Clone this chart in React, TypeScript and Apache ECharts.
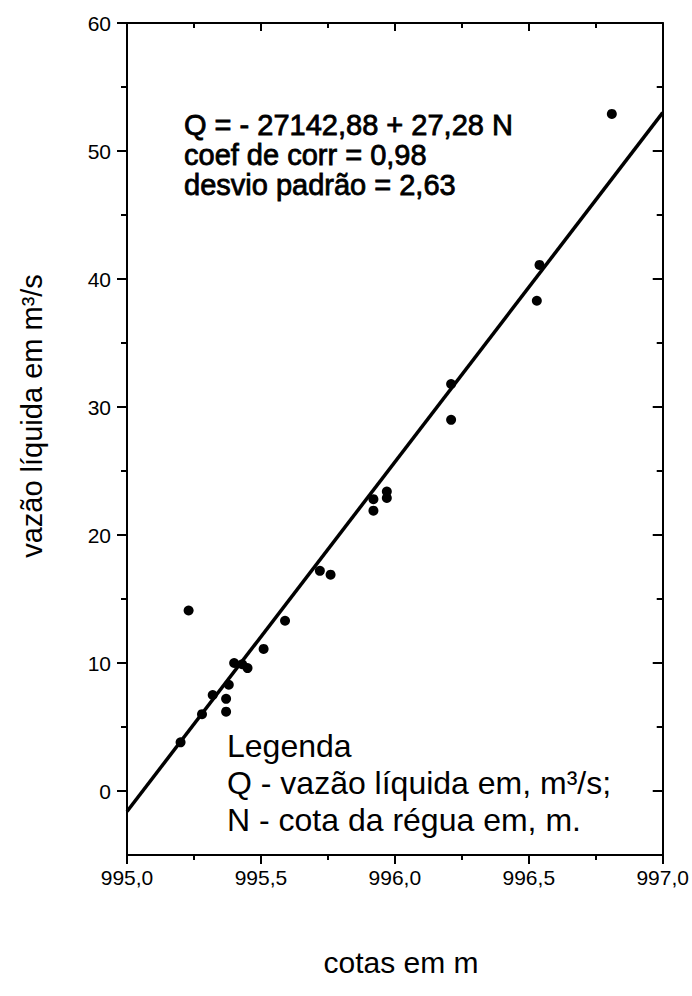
import React, { useEffect, useRef } from "react";
import * as echarts from "echarts";

const cotas = [
  995.2, 995.23, 995.28, 995.32, 995.37, 995.37, 995.38, 995.4, 995.43, 995.45,
  995.51, 995.59, 995.72, 995.76, 995.92, 995.92, 995.97, 995.97, 996.21, 996.21,
  996.53, 996.54, 996.81,
];
const vazoes = [
  3.8, 14.1, 6.0, 7.5, 7.2, 6.2, 8.3, 10.0, 9.9, 9.6,
  11.1, 13.3, 17.2, 16.9, 22.8, 21.9, 23.4, 22.9, 31.8, 29.0,
  38.3, 41.1, 52.9,
];
// Fitted line end points as drawn in the picture
const fitN = [995.0, 997.0];
const fitQ = [-1.6, 53.0];

const yMajorTicks = [0, 10, 20, 30, 40, 50, 60];
const yMinorTicks = [5, 15, 25, 35, 45, 55];

const annotationLines = [
  "Q = - 27142,88 + 27,28 N",
  "coef de corr = 0,98",
  "desvio padrão = 2,63",
];
const legendLines = [
  "Legenda",
  "Q - vazão líquida em, m³/s;",
  "N - cota da régua em, m.",
];

const FONT = "Arial, 'Liberation Sans', sans-serif";
const NARROW = "'Liberation Sans Narrow', 'Arial Narrow', 'Liberation Sans', sans-serif";
const BLACK = "#000";

export default function App() {
  const ref = useRef<HTMLDivElement>(null);

  useEffect(() => {
    if (!ref.current) return;
    const chart = echarts.init(ref.current, undefined, { renderer: "svg" });
    const lineStyle = { color: BLACK, width: 2 };
    const tickLabel = { color: BLACK, fontFamily: NARROW, fontSize: 21 };

    const yBase = { type: "value" as const, min: -5, max: 60, splitLine: { show: false } };

    chart.setOption({
      animation: false,
      backgroundColor: "#fff",
      grid: { left: 127, right: 28, top: 23, bottom: 141, containLabel: false },
      xAxis: [
        {
          type: "value",
          position: "bottom",
          min: 995,
          max: 997,
          interval: 0.5,
          axisLine: { show: true, onZero: false, lineStyle },
          axisTick: { show: true, length: 9, lineStyle },
          minorTick: { show: true, splitNumber: 2, length: 5, lineStyle },
          splitLine: { show: false },
          axisLabel: {
            ...tickLabel,
            margin: 12,
            showMinLabel: true,
            showMaxLabel: true,
            formatter: (v: number) => v.toFixed(1).replace(".", ","),
          },
        },
        {
          type: "value",
          position: "top",
          min: 995,
          max: 997,
          interval: 0.5,
          axisLine: { show: true, onZero: false, lineStyle },
          axisTick: { show: true, inside: true, length: 8, lineStyle },
          minorTick: { show: true, splitNumber: 2, length: 5, lineStyle },
          splitLine: { show: false },
          axisLabel: { show: false },
        },
      ],
      yAxis: [
        {
          ...yBase,
          position: "left",
          axisLine: { show: true, onZero: false, lineStyle },
          axisTick: { show: true, length: 10, customValues: yMajorTicks, lineStyle },
          axisLabel: { ...tickLabel, margin: 16, customValues: yMajorTicks },
        },
        {
          ...yBase,
          position: "left",
          axisLine: { show: false },
          axisTick: { show: true, length: 6, customValues: yMinorTicks, lineStyle },
          axisLabel: { show: false },
        },
        {
          ...yBase,
          position: "right",
          axisLine: { show: true, onZero: false, lineStyle },
          axisTick: { show: true, inside: true, length: 10, customValues: yMajorTicks, lineStyle },
          axisLabel: { show: false },
        },
        {
          ...yBase,
          position: "right",
          axisLine: { show: false },
          axisTick: { show: true, inside: true, length: 6, customValues: yMinorTicks, lineStyle },
          axisLabel: { show: false },
        },
      ],
      series: [
        {
          type: "line",
          xAxisIndex: 0,
          yAxisIndex: 0,
          data: fitN.map((n, i) => [n, fitQ[i]]),
          showSymbol: false,
          symbol: "none",
          lineStyle: { color: BLACK, width: 3.5 },
          z: 3,
        },
        {
          type: "scatter",
          xAxisIndex: 0,
          yAxisIndex: 0,
          data: cotas.map((n, i) => [n, vazoes[i]]),
          symbol: "circle",
          symbolSize: 10,
          itemStyle: { color: BLACK, opacity: 1 },
          z: 4,
        },
      ],
      graphic: [
        {
          type: "text",
          x: 32,
          y: 416,
          rotation: Math.PI / 2,
          style: {
            text: "vazão líquida em m³/s",
            fontFamily: FONT,
            fontSize: 29,
            fill: BLACK,
            align: "center",
            verticalAlign: "middle",
          },
        },
        {
          type: "text",
          x: 401,
          y: 962,
          style: {
            text: "cotas em m",
            fontFamily: FONT,
            fontSize: 30,
            fill: BLACK,
            align: "center",
            verticalAlign: "middle",
          },
        },
        ...annotationLines.map((t, i) => ({
          type: "text",
          x: 184,
          y: 125 + i * 30,
          style: {
            text: t,
            fontFamily: FONT,
            fontSize: 29,
            fill: BLACK,
            stroke: BLACK,
            lineWidth: 0.8,
            align: "left",
            verticalAlign: "middle",
          },
        })),
        ...legendLines.map((t, i) => ({
          type: "text",
          x: 227,
          y: 746 + i * 37,
          style: {
            text: t,
            fontFamily: FONT,
            fontSize: 32,
            fill: BLACK,
            align: "left",
            verticalAlign: "middle",
          },
        })),
      ],
    });
    return () => chart.dispose();
  }, []);

  return (
    <div
      ref={ref}
      style={{ position: "absolute", left: 0, top: 0, width: 692, height: 996 }}
    />
  );
}
